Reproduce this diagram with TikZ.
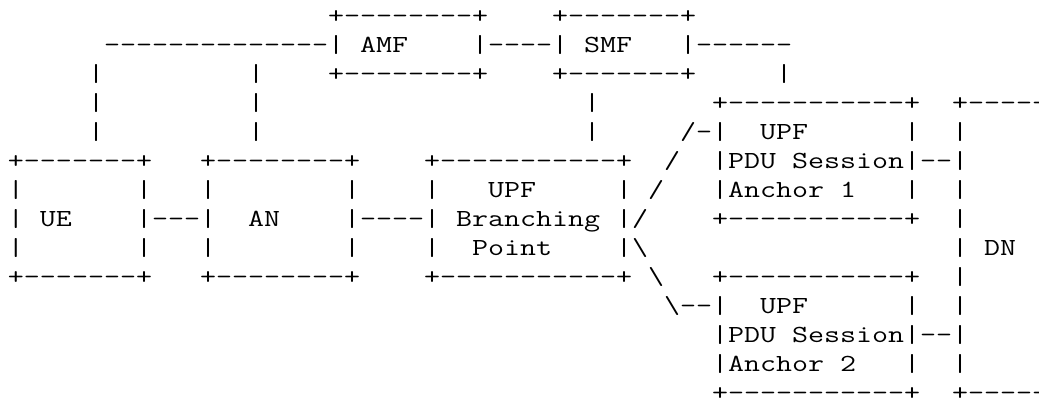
\documentclass[tikz,border=0pt]{standalone}
\usepackage{fontspec}
\usepackage{graphicx}
\ExplSyntaxOn
\cs_new:Npn \dashrun #1 {\prg_replicate:nn{#1}{\hbox{-}}}
\ExplSyntaxOff
\newsavebox\cellbox
\tikzset{
  asc/.style={anchor=base west, inner sep=0pt, outer sep=0pt},
}
\begin{document}
\sbox\cellbox{\fontsize{12}{14}\selectfont\ttfamily E}%
\pgfmathsetmacro\sx{16/\the\wd\cellbox}%
\pgfmathsetmacro\sy{15/\the\ht\cellbox}%
\newcommand\asctext[1]{\scalebox{\sx}[\sy]{\fontsize{12}{14}\selectfont\ttfamily #1}}%
\newcommand\frag[4]{\node[asc] (#1) at ({16*#2+8},{16+29*#3+7.5}) {\asctext{#4}};}%
\begin{tikzpicture}[x=1pt,y=-1pt]
\useasboundingbox (0,0) rectangle (1039,404);
% row 0
\frag{amfT}{20}{0}{+\dashrun{8}+}
\frag{smfT}{34}{0}{+\dashrun{7}+}
% row 1
\frag{topline}{6}{1}{\dashrun{14}|}
\frag{amf}{22}{1}{AMF}
\frag{amfsmf}{29}{1}{|\dashrun{4}|}
\frag{smf}{36}{1}{SMF}
\frag{smfR}{42}{1}{|\dashrun{6}}
% row 2
\frag{v2a}{5}{2}{|}
\frag{v2b}{15}{2}{|}
\frag{amfB}{20}{2}{+\dashrun{8}+}
\frag{smfB}{34}{2}{+\dashrun{7}+}
\frag{v2c}{48}{2}{|}
% row 3
\frag{v3a}{5}{3}{|}
\frag{v3b}{15}{3}{|}
\frag{v3c}{36}{3}{|}
\frag{a1T}{44}{3}{+\dashrun{11}+}
\frag{dnT}{59}{3}{+\dashrun{5}}
% row 4
\frag{v4a}{5}{4}{|}
\frag{v4b}{15}{4}{|}
\frag{v4c}{36}{4}{|}
\frag{s4}{42}{4}{/\dashrun{1}|}
\frag{a1upf}{47}{4}{UPF}
\frag{a1r4}{56}{4}{|}
\frag{dn4}{59}{4}{|}
% row 5
\frag{ueT}{0}{5}{+\dashrun{7}+}
\frag{anT}{12}{5}{+\dashrun{8}+}
\frag{bpT}{26}{5}{+\dashrun{11}+}
\frag{s5}{41}{5}{/}
\frag{a1pdu}{44}{5}{|PDU Session|\dashrun{2}|}
% row 6
\frag{ue6l}{0}{6}{|}
\frag{ue6r}{8}{6}{|}
\frag{an6l}{12}{6}{|}
\frag{an6r}{21}{6}{|}
\frag{bp6l}{26}{6}{|}
\frag{bpupf}{30}{6}{UPF}
\frag{bp6r}{38}{6}{|}
\frag{s6}{40}{6}{/}
\frag{a1anc}{44}{6}{|Anchor 1}
\frag{a1r6}{56}{6}{|}
\frag{dn6}{59}{6}{|}
% row 7
\frag{ue}{0}{7}{| UE}
\frag{uean}{8}{7}{|\dashrun{3}|}
\frag{an}{15}{7}{AN}
\frag{anbp}{21}{7}{|\dashrun{4}|}
\frag{bpbr}{28}{7}{Branching}
\frag{bp7r}{38}{7}{|/}
\frag{a1B}{44}{7}{+\dashrun{11}+}
\frag{dn7}{59}{7}{|}
% row 8
\frag{ue8l}{0}{8}{|}
\frag{ue8r}{8}{8}{|}
\frag{an8l}{12}{8}{|}
\frag{an8r}{21}{8}{|}
\frag{bp8l}{26}{8}{|}
\frag{bppt}{29}{8}{Point}
\frag{bp8r}{38}{8}{|\textbackslash}
\frag{dn8}{59}{8}{|}
\frag{dn}{61}{8}{DN}
% row 9
\frag{ueB}{0}{9}{+\dashrun{7}+}
\frag{anB}{12}{9}{+\dashrun{8}+}
\frag{bpB}{26}{9}{+\dashrun{11}+}
\frag{s9}{40}{9}{\textbackslash}
\frag{a2T}{44}{9}{+\dashrun{11}+}
\frag{dn9}{59}{9}{|}
% row 10
\frag{s10}{41}{10}{\textbackslash\dashrun{2}|}
\frag{a2upf}{47}{10}{UPF}
\frag{a2r10}{56}{10}{|}
\frag{dn10}{59}{10}{|}
% row 11
\frag{a2pdu}{44}{11}{|PDU Session|\dashrun{2}|}
% row 12
\frag{a2anc}{44}{12}{|Anchor 2}
\frag{a2r12}{56}{12}{|}
\frag{dn12}{59}{12}{|}
% row 13
\frag{a2B}{44}{13}{+\dashrun{11}+}
\frag{dnB}{59}{13}{+\dashrun{5}}
\end{tikzpicture}
\end{document}
